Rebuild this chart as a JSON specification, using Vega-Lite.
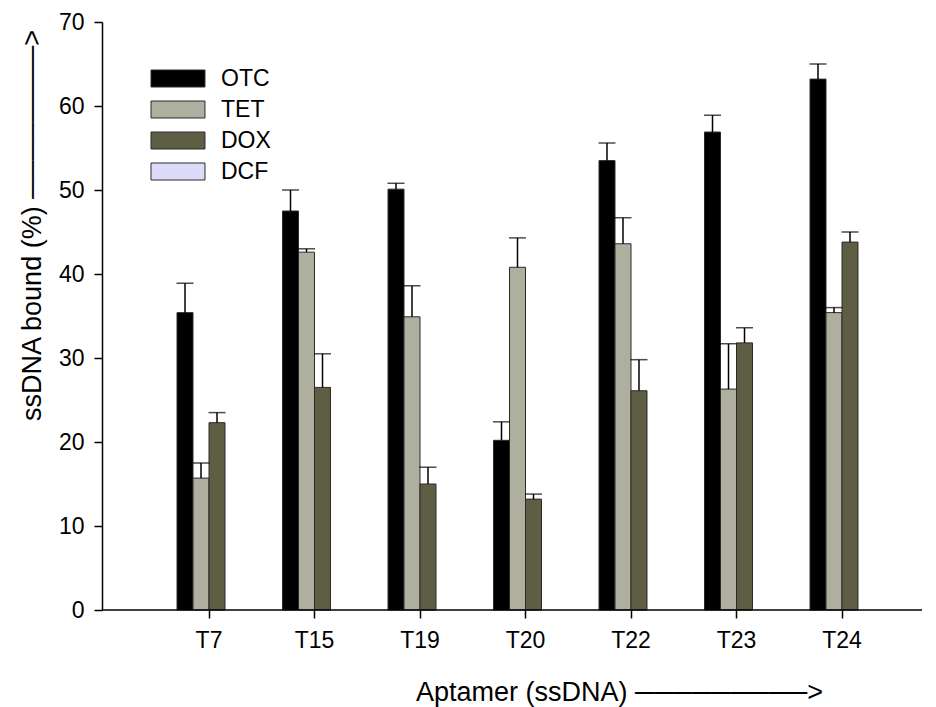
{
  "$schema": "https://vega.github.io/schema/vega-lite/v6.json",
  "autosize": {"type": "none"},
  "padding": {"left": 102, "top": 22, "right": 14, "bottom": 97},
  "width": 820,
  "height": 588,
  "background": "white",
  "config": {
    "view": {"stroke": null},
    "font": "Liberation Sans",
    "axis": {"grid": false, "domainColor": "#000", "tickColor": "#000", "domainWidth": 1.5, "tickWidth": 1.5, "labelColor": "#000", "titleColor": "#000", "labelFont": "Liberation Sans", "titleFont": "Liberation Sans", "titleFontWeight": "normal", "labelFontSize": 23, "titleFontSize": 27}
  },
  "datasets": {
    "bars": [
      {"aptamer": "T7", "drug": "OTC", "value": 35.4, "upper": 38.9},
      {"aptamer": "T7", "drug": "TET", "value": 15.7, "upper": 17.5},
      {"aptamer": "T7", "drug": "DOX", "value": 22.3, "upper": 23.5},
      {"aptamer": "T15", "drug": "OTC", "value": 47.5, "upper": 50.0},
      {"aptamer": "T15", "drug": "TET", "value": 42.6, "upper": 43.0},
      {"aptamer": "T15", "drug": "DOX", "value": 26.5, "upper": 30.5},
      {"aptamer": "T19", "drug": "OTC", "value": 50.1, "upper": 50.8},
      {"aptamer": "T19", "drug": "TET", "value": 34.9, "upper": 38.6},
      {"aptamer": "T19", "drug": "DOX", "value": 15.0, "upper": 17.0},
      {"aptamer": "T20", "drug": "OTC", "value": 20.2, "upper": 22.4},
      {"aptamer": "T20", "drug": "TET", "value": 40.8, "upper": 44.3},
      {"aptamer": "T20", "drug": "DOX", "value": 13.2, "upper": 13.8},
      {"aptamer": "T22", "drug": "OTC", "value": 53.5, "upper": 55.6},
      {"aptamer": "T22", "drug": "TET", "value": 43.6, "upper": 46.7},
      {"aptamer": "T22", "drug": "DOX", "value": 26.1, "upper": 29.8},
      {"aptamer": "T23", "drug": "OTC", "value": 56.9, "upper": 58.9},
      {"aptamer": "T23", "drug": "TET", "value": 26.3, "upper": 31.7},
      {"aptamer": "T23", "drug": "DOX", "value": 31.8, "upper": 33.6},
      {"aptamer": "T24", "drug": "OTC", "value": 63.2, "upper": 65.0},
      {"aptamer": "T24", "drug": "TET", "value": 35.4, "upper": 36.0},
      {"aptamer": "T24", "drug": "DOX", "value": 43.8, "upper": 45.0}
    ],
    "baseline": [{"base": 0}]
  },
  "layer": [
    {
      "data": {"name": "bars"},
      "mark": {"type": "bar", "stroke": "#2a2a2a", "strokeWidth": 1},
      "encoding": {
        "x": {
          "field": "aptamer", "type": "nominal", "sort": null,
          "scale": {"domain": ["T7", "T15", "T19", "T20", "T22", "T23", "T24"], "range": [54.25, 792.75], "paddingInner": 0.3934, "paddingOuter": 0.1967},
          "axis": {"title": "Aptamer (ssDNA) ─────────>", "domain": false, "labelAngle": 0, "tickSize": 8, "labelPadding": 11, "titleX": 517, "titleY": 82, "titleAnchor": "middle", "titleAlign": "center", "titleBaseline": "middle"}
        },
        "xOffset": {"field": "drug", "type": "nominal", "scale": {"domain": ["OTC", "TET", "DOX", "DCF"], "paddingInner": 0, "paddingOuter": 0}},
        "y": {"field": "value", "type": "quantitative", "scale": {"domain": [0, 70], "nice": false},
          "axis": {"title": "ssDNA bound (%) ────────>", "values": [0, 10, 20, 30, 40, 50, 60, 70], "tickSize": 8, "labelPadding": 10, "titleX": -70, "titleY": 203, "titleAnchor": "middle", "titleAlign": "center", "titleBaseline": "middle"}},
        "color": {
          "field": "drug", "type": "nominal",
          "scale": {"domain": ["OTC", "TET", "DOX", "DCF"], "range": ["#000000", "#afaf9f", "#5e5e44", "#dcdcfa"]},
          "legend": {"title": null, "orient": "none", "legendX": 46, "legendY": 45, "padding": 0, "symbolType": "M-1,-1H5.35V1H-1Z", "symbolSize": 289, "symbolStrokeColor": "#2a2a2a", "symbolStrokeWidth": 1, "symbolOpacity": 1, "labelFontSize": 23, "labelFont": "Liberation Sans", "labelColor": "#000", "labelOffset": 50, "rowPadding": 7}
        }
      }
    },
    {
      "data": {"name": "bars"},
      "mark": {"type": "rule", "color": "#000", "strokeWidth": 1.5},
      "encoding": {
        "x": {"field": "aptamer", "type": "nominal", "sort": null},
        "xOffset": {"field": "drug", "type": "nominal"},
        "y": {"field": "value", "type": "quantitative"},
        "y2": {"field": "upper"}
      }
    },
    {
      "data": {"name": "bars"},
      "mark": {"type": "tick", "color": "#000", "thickness": 1.5, "size": 17},
      "encoding": {
        "x": {"field": "aptamer", "type": "nominal", "sort": null},
        "xOffset": {"field": "drug", "type": "nominal"},
        "y": {"field": "upper", "type": "quantitative"}
      }
    },
    {
      "data": {"name": "baseline"},
      "mark": {"type": "rule", "color": "#000", "strokeWidth": 1.5},
      "encoding": {
        "y": {"field": "base", "type": "quantitative"}
      }
    }
  ]
}
